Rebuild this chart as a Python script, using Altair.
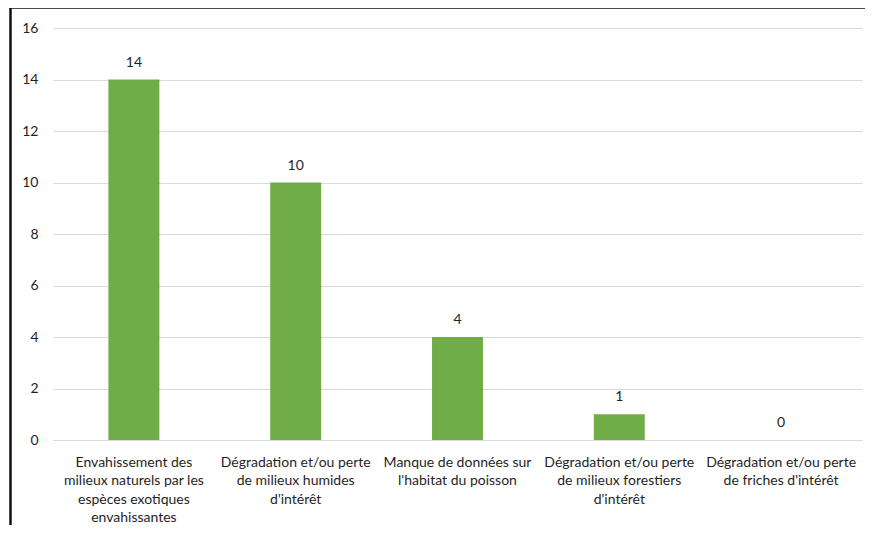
import altair as alt
import pandas as pd

# Category labels ('|' marks a line break in the axis label)
categories = [
    "Envahissement des|milieux naturels par les|espèces exotiques|envahissantes",
    "Dégradation et/ou perte|de milieux humides|d'intérêt",
    "Manque de données sur|l'habitat du poisson",
    "Dégradation et/ou perte|de milieux forestiers|d'intérêt",
    "Dégradation et/ou perte|de friches d'intérêt",
]
values = [14, 10, 4, 1, 0]
y_ticks = [0, 2, 4, 6, 8, 10, 12, 14, 16]

df = pd.DataFrame({"cat": categories, "val": values})

FONT = "Lato"
TXT = "#1f1f1f"
W, H = 809, 412

x_enc = alt.X(
    "cat:N",
    sort=categories,
    title=None,
    scale=alt.Scale(paddingInner=0.685, paddingOuter=0.3425),
    axis=alt.Axis(
        labelExpr="split(datum.label, '|')",
        labelAngle=0,
        labelAlign="center",
        labelBaseline="top",
        labelPadding=15,
        labelLineHeight=18.5,
        labelFontSize=14,
        labelFont=FONT,
        labelColor=TXT,
        ticks=False,
        grid=False,
        domainColor="#d9d9d9",
        domainWidth=1,
        labelLimit=300,
    ),
)
y_enc = alt.Y(
    "val:Q",
    title=None,
    scale=alt.Scale(domain=[0, 16], nice=False),
    axis=alt.Axis(
        values=y_ticks,
        grid=True,
        gridColor="#d9d9d9",
        gridWidth=1,
        domain=False,
        ticks=False,
        labelPadding=15,
        labelFontSize=14,
        labelFont=FONT,
        labelColor=TXT,
    ),
)

bars = alt.Chart(df).mark_bar(color="#70AD47").encode(x=x_enc, y=y_enc)
labels = alt.Chart(df).mark_text(
    baseline="middle", dy=-17, fontSize=14, font=FONT, color=TXT
).encode(x=alt.X("cat:N", sort=categories), y="val:Q", text="val:Q")

frame_df = pd.DataFrame({"k": [0]})
left_line = alt.Chart(frame_df).mark_rule(color="#111", strokeWidth=2.5).encode(
    x=alt.value(-42.5), y=alt.value(-21.5), y2=alt.value(540)
)
top_line = alt.Chart(frame_df).mark_rule(color="#111", strokeWidth=2.5).encode(
    x=alt.value(-43.5), x2=alt.value(830), y=alt.value(-20.5)
)

chart = (
    alt.layer(bars, labels, left_line, top_line)
    .properties(
        width=W,
        height=H,
        autosize=alt.AutoSizeParams(type="none"),
        padding={"left": 45, "top": 20, "right": 3, "bottom": 85},
        background="white",
    )
    .configure_view(stroke=None)
)

chart.save("out.html", embed_options={"renderer": "svg", "actions": False})
